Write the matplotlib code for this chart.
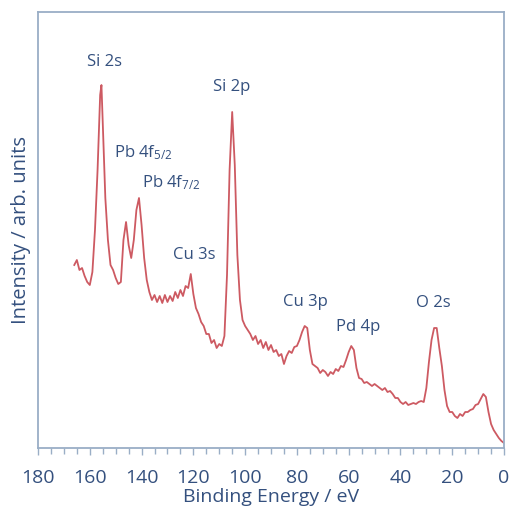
import matplotlib
matplotlib.use("Agg")
import matplotlib.pyplot as plt
from matplotlib.ticker import MultipleLocator

plt.rcParams['font.family'] = ['Open Sans', 'DejaVu Sans']
plt.rcParams['mathtext.fontset'] = 'custom'
plt.rcParams['mathtext.rm'] = 'Open Sans'
plt.rcParams['mathtext.it'] = 'Open Sans'

# binding energy (eV) and intensity (arb. units)
binding_energy = [
    166, 165, 164, 163, 162, 161, 160, 159, 158, 157, 156, 155.5, 155, 154, 153,
    152, 151, 150, 149, 148, 147, 146, 145, 144, 143, 142, 141, 140, 139, 138,
    137, 136, 135, 134, 133, 132, 131, 130, 129, 128, 127, 126, 125, 124, 123,
    122, 121, 120, 119, 118, 117, 116, 115, 114, 113, 112, 111, 110, 109, 108,
    107, 106, 105, 104, 103, 102, 101, 100, 99, 98, 97, 96, 95, 94, 93,
    92, 91, 90, 89, 88, 87, 86, 85, 84, 83, 82, 81, 80, 79, 78,
    77, 76, 75, 74, 73, 72, 71, 70, 69, 68, 67, 66, 65, 64, 63,
    62, 61, 60, 59, 58, 57, 56, 55, 54, 53, 52, 51, 50, 49, 48,
    47, 46, 45, 44, 43, 42, 41, 40, 39, 38, 37, 36, 35, 34, 33,
    32, 31, 30, 29, 28, 27, 26, 25, 24, 23, 22, 21, 20, 19, 18,
    17, 16, 15, 14, 13, 12, 11, 10, 9, 8, 7, 6, 5, 4, 3,
    2, 1, 0,
]
intensity = [
    180, 185, 175, 177, 169, 163, 160, 173, 215, 275, 350, 360, 323, 247, 205,
    180, 175, 167, 161, 163, 205, 223, 200, 187, 205, 235, 247, 220, 187, 165,
    153, 145, 150, 143, 149, 142, 150, 143, 149, 144, 153, 147, 155, 149, 159,
    157, 171, 151, 137, 131, 123, 119, 111, 111, 102, 105, 97, 101, 99, 109,
    170, 275, 333, 280, 190, 145, 125, 119, 115, 111, 105, 109, 101, 105, 97,
    103, 95, 100, 93, 95, 89, 91, 81, 89, 94, 92, 98, 99, 105, 113,
    119, 117, 95, 81, 79, 77, 72, 75, 73, 69, 73, 71, 76, 74, 79,
    78, 85, 93, 99, 95, 77, 67, 66, 62, 63, 61, 59, 61, 59, 57,
    55, 57, 53, 54, 51, 47, 47, 43, 41, 43, 40, 41, 42, 41, 43,
    44, 43, 57, 83, 105, 117, 117, 97, 79, 55, 39, 33, 33, 29, 27,
    31, 29, 33, 33, 35, 36, 40, 41, 46, 51, 48, 33, 21, 15, 11,
    7, 4, 2,
]

peak_labels = ['Si 2s', 'Pb 4f$_{5/2}$', 'Pb 4f$_{7/2}$', 'Cu 3s', 'Si 2p',
               'Cu 3p', 'Pd 4p', 'O 2s']
label_x = [154.2, 139.4, 128.4, 119.5, 105.2, 76.7, 56.3, 27.4]
label_y = [383, 292, 262, 190, 358, 143, 118, 142]

line_color = '#cd5a62'
axis_color = '#9aaec6'
text_color = '#34507e'

fig = plt.figure(figsize=(5.09, 5.13), dpi=100)
ax = fig.add_axes([0.0747, 0.1267, 0.9155, 0.8499])

ax.plot(binding_energy, intensity, color=line_color, lw=1.3)

for lab, x, y in zip(peak_labels, label_x, label_y):
    ax.text(x, y, lab, ha='center', va='center', fontsize=12, color=text_color)

ax.set_xlim(180, 0)
ax.set_ylim(-3, 433)
ax.xaxis.set_major_locator(MultipleLocator(20))
ax.xaxis.set_minor_locator(MultipleLocator(5))
ax.set_yticks([])

for s in ax.spines.values():
    s.set_color(axis_color)
    s.set_linewidth(1.3)
ax.tick_params(axis='x', which='major', direction='out', length=5, width=1,
               color=axis_color, labelcolor=text_color, labelsize=14, pad=10)
ax.tick_params(axis='x', which='minor', direction='out', length=4, width=1,
               color=axis_color)

ax.set_xlabel('Binding Energy / eV', fontsize=14, color=text_color, labelpad=1)
ax.set_ylabel('Intensity / arb. units', fontsize=14.5, color=text_color, labelpad=5)

fig.savefig('out.png', dpi=100)
